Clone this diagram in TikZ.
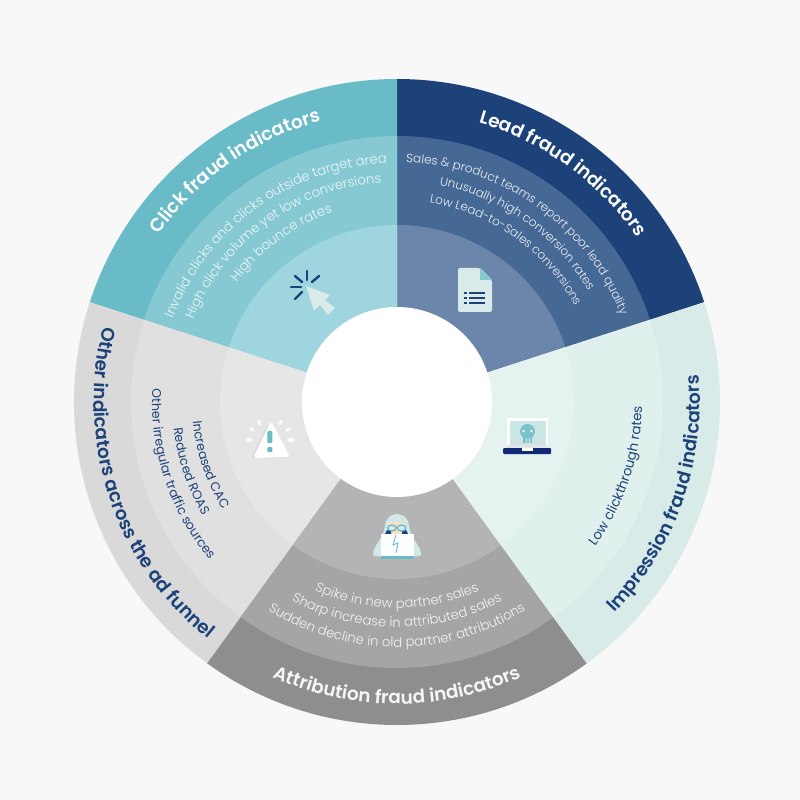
\documentclass[tikz,border=0pt]{standalone}
\usepackage{fontspec}
\setmainfont{Poppins}
\newfontfamily\headFace{Poppins SemiBold}
\newfontfamily\liteFace{Poppins Light}
\usetikzlibrary{decorations.text}
\definecolor{pageGrey}{HTML}{F8F8F8}
\definecolor{navyText}{HTML}{1C4279}
\definecolor{leadOut}{HTML}{1C4279}
\definecolor{leadMid}{HTML}{466894}
\definecolor{leadIn}{HTML}{6C86AB}
\definecolor{clickOut}{HTML}{69BBC8}
\definecolor{clickMid}{HTML}{86C9D3}
\definecolor{clickIn}{HTML}{9FD5DE}
\definecolor{imprOut}{HTML}{D8EBE9}
\definecolor{imprMid}{HTML}{E0F0ED}
\definecolor{imprIn}{HTML}{E5F3F0}
\definecolor{attrOut}{HTML}{8E8E8E}
\definecolor{attrMid}{HTML}{A5A5A5}
\definecolor{attrIn}{HTML}{B4B4B4}
\definecolor{otherOut}{HTML}{D9D9D9}
\definecolor{otherMid}{HTML}{E0E0E0}
\definecolor{otherIn}{HTML}{E6E6E6}
\newcommand{\headFont}{\headFace\fontsize{18.5}{20}\selectfont}
\newcommand{\lineFont}{\liteFace\fontsize{12}{13}\selectfont}
\newcommand{\wideFont}{\liteFace\fontsize{13.2}{14}\selectfont}
\newcommand{\navyFont}{\fontsize{12.6}{13}\selectfont}
\newcommand{\lowFont}{\fontsize{13.4}{14}\selectfont}
% text running clockwise (top half) and counter-clockwise (lower half)
\newcommand{\cwText}[4]{\path[decorate,decoration={text along path,text align=center,
  text={|#3|#4}}] (#1+50:#2) arc[start angle=#1+50,end angle=#1-50,radius=#2];}
\newcommand{\ccwText}[4]{\path[decorate,decoration={text along path,text align=center,
  text={|#3|#4}}] (#1-50:#2) arc[start angle=#1-50,end angle=#1+50,radius=#2];}
\begin{document}
\begin{tikzpicture}[x=1pt,y=1pt,
  ray/.style={line width=2.4pt,line cap=round},
  tip/.style={line width=3pt,line cap=round,white!85!otherIn}]
\def\rOuter{323pt}
\def\rMid{266pt}
\def\rIn{177pt}
\def\rHole{95pt}
\useasboundingbox (-397,-398) rectangle (403,402);
\fill[pageGrey] (-397,-398) rectangle (403,402);

% the five wedges
\foreach \aStart/\aEnd/\cOut/\cMid/\cIn in {
  18/90/leadOut/leadMid/leadIn,
  90/162/clickOut/clickMid/clickIn,
  162/234/otherOut/otherMid/otherIn,
  234/306/attrOut/attrMid/attrIn,
  306/378/imprOut/imprMid/imprIn}
{
  \fill[\cOut] (0,0) -- (\aStart:\rOuter) arc[start angle=\aStart,end angle=\aEnd,radius=\rOuter] -- cycle;
  \fill[\cMid] (0,0) -- (\aStart:\rMid) arc[start angle=\aStart,end angle=\aEnd,radius=\rMid] -- cycle;
  \fill[\cIn] (0,0) -- (\aStart:\rIn) arc[start angle=\aStart,end angle=\aEnd,radius=\rIn] -- cycle;
}
\fill[white] (0,0) circle (\rHole);

% Lead
\cwText{54}{291pt}{\headFont\color{white}}{Lead fraud indicators}
\cwText{54.5}{240pt}{\lineFont\color{white!90!leadMid}}{Sales {\&} product teams report poor lead quality}
\cwText{54.5}{221pt}{\lineFont\color{white!90!leadMid}}{Unusually high conversion rates}
\cwText{54.5}{202pt}{\lineFont\color{white!90!leadMid}}{Low Lead-to-Sales conversions}

% Click
\cwText{125}{291pt}{\headFont\color{white}}{Click fraud indicators}
\cwText{126}{239pt}{\wideFont\color{white!85!clickMid}}{Invalid clicks and clicks outside target area}
\cwText{126}{220pt}{\wideFont\color{white!85!clickMid}}{High click volume yet low conversions}
\cwText{126}{200pt}{\wideFont\color{white!85!clickMid}}{High bounce rates}

% Other
\ccwText{198.5}{303pt}{\headFont\color{navyText}}{Other indicators across the ad funnel}
\ccwText{198.5}{205pt}{\navyFont\color{navyText}}{Increased CAC}
\ccwText{198.5}{225pt}{\navyFont\color{navyText}}{Reduced ROAS}
\ccwText{198.5}{245pt}{\navyFont\color{navyText}}{Other irregular traffic sources}

% Attribution
\ccwText{270}{302pt}{\headFont\color{white!92!attrOut}}{Attribution fraud indicators}
\ccwText{270}{206pt}{\wideFont\color{white!88!attrMid}}{Spike in new partner sales}
\ccwText{270}{225pt}{\wideFont\color{white!88!attrMid}}{Sharp increase in attributed sales}
\ccwText{270}{245pt}{\wideFont\color{white!88!attrMid}}{Sudden decline in old partner attributions}

% Impression
\ccwText{340.5}{303pt}{\headFont\color{navyText}}{Impression fraud indicators}
\ccwText{341.5}{245pt}{\lowFont\color{navyText}}{Low clickthrough rates}

% icons, in picture pixels (y down)
\begin{scope}[shift={(-397,402)},yscale=-1]
  % document
  \fill[imprOut,rounded corners=2pt] (458,268) -- (480,268) -- (492,280) -- (492,312) -- (458,312) -- cycle;
  \fill[clickMid] (480,268) -- (492,280) -- (480,280) -- cycle;
  \foreach \yy in {293,298,303} {
    \fill[leadOut] (464,\yy-1) rectangle (466.5,\yy+1);
    \fill[leadOut] (468.5,\yy-1) rectangle (485,\yy+1);
  }
  % cursor
  \fill[imprOut] (306,286) -- (330,295) -- (325,300) -- (335,308) -- (328,315) -- (320,305) -- (314,311) -- cycle;
  \draw[ray,navyText] (295,276) -- (302,282);
  \draw[ray,navyText] (307,271) -- (307,280);
  \draw[ray,navyText] (319,276) -- (312,282);
  \draw[ray,navyText] (291,287) -- (301,287);
  \draw[ray,navyText] (295,299) -- (302,292);
  % warning
  \fill[otherOut,rounded corners=3pt] (269,422) -- (251,458) -- (288,458) -- cycle;
  \fill[white,rounded corners=3pt] (271,421) -- (253,458) -- (290,457) -- cycle;
  \fill[clickOut,rounded corners=1pt] (267.5,431) rectangle (272.5,443);
  \fill[clickOut,rounded corners=1pt] (267.5,447) rectangle (272.5,452);
  \draw[tip] (247.5,440) -- (251,440);
  \draw[tip] (250.5,428.5) -- (253.5,430.5);
  \draw[tip] (258.5,421) -- (260.5,424);
  \draw[tip] (281.5,421) -- (279.5,424);
  \draw[tip] (289.5,428.5) -- (286.5,430.5);
  \draw[tip] (292.5,440) -- (289,440);
  % laptop
  \fill[white] (507,418) rectangle (548,446);
  \fill[imprOut!85!clickMid] (509.5,421) rectangle (545.5,445);
  \fill[white!90!black] (507,445) rectangle (548,448);
  \fill[blue!20!navyText!80!black,rounded corners=1pt] (503,448) rectangle (551,454);
  \fill[white] (522,448) rectangle (533,451);
  \fill[clickOut!85!imprOut] (527.5,431.5) circle (7.5);
  \fill[clickOut!85!imprOut] (523,436) rectangle (532,442.5);
  \fill[white] (523.5,431) circle (1.3) (531.5,431) circle (1.3);
  \draw[imprOut,line width=0.7pt] (526,438) -- (526,442.5) (529,438) -- (529,442.5);
  % hacker
  \fill[imprOut!90!clickMid] (373,555) .. controls (373,545) and (383,540) .. (385,526)
    .. controls (386,510) and (408,510) .. (409,526)
    .. controls (411,540) and (421,545) .. (421,555)
    .. controls (421,558) and (373,558) .. (373,555) -- cycle;
  \fill[orange!25!white] (388,522) rectangle (405,534);
  \fill[navyText] (387,530) -- (391,530) -- (391,534) -- (385,534) -- cycle;
  \fill[navyText] (402,530) -- (406,530) -- (408,534) -- (402,534) -- cycle;
  \draw[clickOut,line width=1.3pt,fill=imprOut] (392,528) ellipse (4.2 and 3);
  \draw[clickOut,line width=1.3pt,fill=imprOut] (401.5,528) ellipse (4.2 and 3);
  \fill[white] (381,534) rectangle (414,556);
  \fill[clickOut] (381,556) rectangle (414,559);
  \draw[clickOut,line width=0.9pt] (396,535) -- (393,545) -- (398,543) -- (396,553);
\end{scope}
\end{tikzpicture}
\end{document}
